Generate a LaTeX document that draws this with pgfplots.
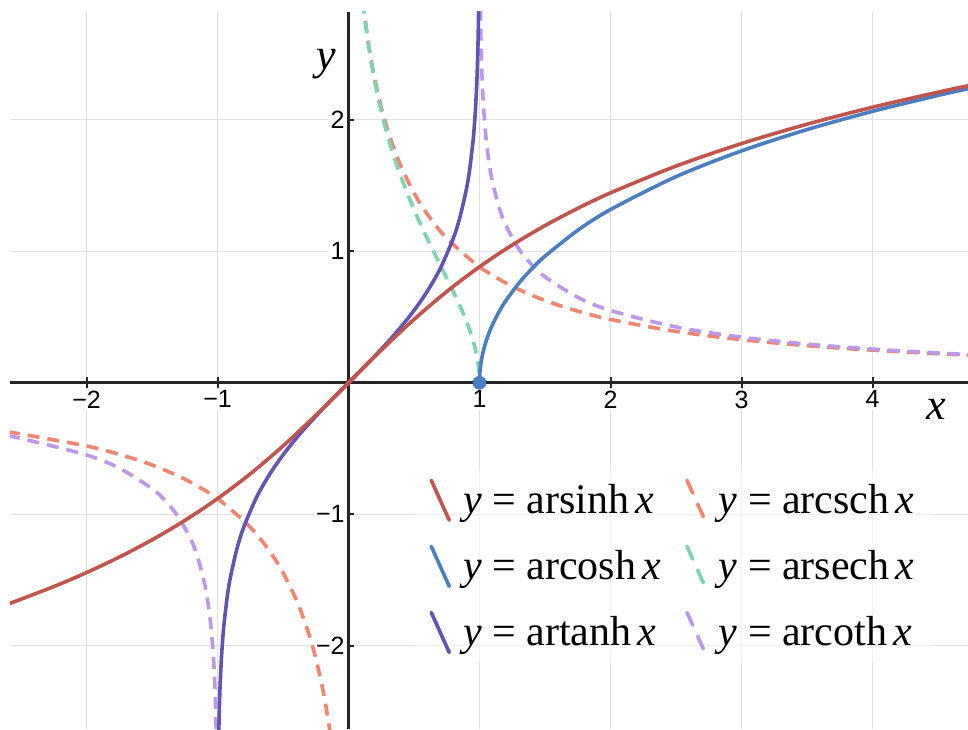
\documentclass[border=0pt]{standalone}
\usepackage{fontspec}
\setmainfont{Liberation Serif}
\newfontfamily\ticksans{Liberation Sans}
\usepackage{pgfplots}
\pgfplotsset{compat=1.18}
\usetikzlibrary{calc}

\definecolor{sinhcol}{RGB}{194,84,78}
\definecolor{coshcol}{RGB}{74,126,192}
\definecolor{tanhcol}{RGB}{98,84,178}
\definecolor{cschcol}{RGB}{242,132,112}
\definecolor{sechcol}{RGB}{126,212,176}
\definecolor{cothcol}{RGB}{186,152,234}

\pgfplotsset{
  solidcurve/.style={line width=1.8pt, smooth, line cap=round},
  dashcurve/.style={line width=1.8pt, smooth, dash pattern=on 6pt off 4pt},
}

\begin{document}
\begin{tikzpicture}
\begin{axis}[
  scale only axis, width=479pt, height=358.5pt,
  xmin=-2.584, xmax=4.729, ymin=-2.633, ymax=2.819,
  axis lines=middle,
  axis line style={-, line width=1.3pt, color=black!85},
  xtick={-2,-1,1,2,3,4}, xticklabels={−2,−1,1,2,3,4},
  ytick={-2,-1,1,2}, yticklabels={−2,−1,1,2},
  tick align=center, major tick length=5.5pt,
  tick style={line width=1pt, color=black!85},
  grid=major, major grid style={line width=0.7pt, color=black!12},
  ticklabel style={font=\ticksans\fontsize{12.5}{14}\selectfont, fill=white, inner sep=1pt},
  yticklabel style={xshift=2pt},
  xlabel={\textit{x}}, ylabel={\textit{y}},
  every axis x label/.style={at={(axis cs:4.49,-0.2)}, anchor=center, font=\fontsize{22}{24}\selectfont},
  every axis y label/.style={at={(axis cs:-0.17,2.42)}, anchor=center, font=\fontsize{22}{24}\selectfont},
  legend image code/.code={\draw[#1, line cap=round] (0pt,10pt) -- (9pt,-10pt);
    \path[draw=none, fill=none] (0pt,0pt) -- (14pt,0pt);},
  legend columns=2,
  legend cell align=left,
  legend style={at={(axis cs:0.508,-0.664)}, anchor=north west, draw=none,
    fill=white, fill opacity=0.6, text opacity=1,
    font=\fontsize{21}{24}\selectfont, inner xsep=7pt, inner ysep=4pt, row sep=11.25pt,
    /tikz/every even column/.append style={column sep=10pt}},
]

% legend entries, row by row
\addlegendimage{sinhcol, line width=1.8pt}
\addlegendentry{\textit{y}\hspace{0.25em}=\hspace{0.25em}arsinh\hspace{0.15em}\textit{x}}
\addlegendimage{cschcol, line width=1.8pt, dash pattern=on 7pt off 6pt}
\addlegendentry{\textit{y}\hspace{0.25em}=\hspace{0.25em}arcsch\hspace{0.15em}\textit{x}}
\addlegendimage{coshcol, line width=1.8pt}
\addlegendentry{\textit{y}\hspace{0.25em}=\hspace{0.25em}arcosh\hspace{0.15em}\textit{x}}
\addlegendimage{sechcol, line width=1.8pt, dash pattern=on 7pt off 6pt}
\addlegendentry{\textit{y}\hspace{0.25em}=\hspace{0.25em}arsech\hspace{0.15em}\textit{x}}
\addlegendimage{tanhcol, line width=1.8pt}
\addlegendentry{\textit{y}\hspace{0.25em}=\hspace{0.25em}artanh\hspace{0.15em}\textit{x}}
\addlegendimage{cothcol, line width=1.8pt, dash pattern=on 7pt off 6pt}
\addlegendentry{\textit{y}\hspace{0.25em}=\hspace{0.25em}arcoth\hspace{0.15em}\textit{x}}

% arcsch, two branches
\addplot[cschcol, dashcurve, forget plot] coordinates {
 (-2.6,-0.3757) (-2.5,-0.3900) (-2,-0.4812) (-1.75,-0.5443) (-1.5,-0.6252)
 (-1.25,-0.7327) (-1,-0.8814) (-0.75,-1.0986) (-0.6,-1.2838) (-0.5,-1.4436)
 (-0.4,-1.6472) (-0.35,-1.7722) (-0.3,-1.9189) (-0.25,-2.0947) (-0.2,-2.3124)
 (-0.175,-2.4437) (-0.15,-2.5958) (-0.13,-2.7376)
};
\addplot[cschcol, dashcurve, forget plot] coordinates {
 (0.11,2.9034) (0.12,2.8170) (0.135,2.7002) (0.15,2.5958) (0.175,2.4437)
 (0.2,2.3124) (0.25,2.0947) (0.3,1.9189) (0.35,1.7722) (0.4,1.6472)
 (0.5,1.4436) (0.6,1.2838) (0.75,1.0986) (1,0.8814) (1.25,0.7327)
 (1.5,0.6252) (1.75,0.5443) (2,0.4812) (2.5,0.3900) (3,0.3275)
 (3.5,0.2819) (4,0.2475) (4.5,0.2205) (4.75,0.2090)
};

% arsech
\addplot[sechcol, dashcurve, forget plot] coordinates {
 (0.11,2.8973) (0.12,2.8098) (0.135,2.6911) (0.15,2.5846) (0.175,2.4284)
 (0.2,2.2925) (0.25,2.0634) (0.3,1.8738) (0.35,1.7108) (0.4,1.5668)
 (0.5,1.3170) (0.6,1.0986) (0.7,0.8955) (0.8,0.6931) (0.85,0.5857)
 (0.9,0.4671) (0.95,0.3230) (0.98,0.2017) (0.99,0.1420) (0.995,0.1002)
 (0.999,0.0447) (1,0)
};

% arcoth, two branches
\addplot[cothcol, dashcurve, forget plot] coordinates {
 (-2.6,-0.4055) (-2.5,-0.4236) (-2,-0.5493) (-1.75,-0.6496) (-1.5,-0.8047)
 (-1.4,-0.8959) (-1.3,-1.0184) (-1.2,-1.1989) (-1.15,-1.3313) (-1.1,-1.5223)
 (-1.075,-1.6601) (-1.05,-1.8568) (-1.03,-2.1073) (-1.02,-2.3076)
 (-1.015,-2.4502) (-1.01,-2.6516) (-1.008,-2.7628) (-1.005,-2.9970)
};
\addplot[cothcol, dashcurve, forget plot] coordinates {
 (1.005,2.9970) (1.008,2.7628) (1.01,2.6516) (1.015,2.4502) (1.02,2.3076)
 (1.03,2.1073) (1.05,1.8568) (1.075,1.6601) (1.1,1.5223) (1.15,1.3313)
 (1.2,1.1989) (1.3,1.0184) (1.4,0.8959) (1.5,0.8047) (1.75,0.6496)
 (2,0.5493) (2.5,0.4236) (3,0.3466) (3.5,0.2939) (4,0.2554)
 (4.5,0.2260) (4.75,0.2137)
};

% artanh
\addplot[tanhcol, solidcurve, forget plot] coordinates {
 (-0.995,-2.9945) (-0.993,-2.8257) (-0.99,-2.6467) (-0.985,-2.4427)
 (-0.98,-2.2976) (-0.97,-2.0923) (-0.96,-1.9459) (-0.95,-1.8318)
 (-0.925,-1.6226) (-0.9,-1.4722) (-0.85,-1.2562) (-0.8,-1.0986)
 (-0.7,-0.8673) (-0.6,-0.6931) (-0.5,-0.5493) (-0.4,-0.4236)
 (-0.3,-0.3095) (-0.2,-0.2027) (-0.1,-0.1003) (0,0)
 (0.1,0.1003) (0.2,0.2027) (0.3,0.3095) (0.4,0.4236) (0.5,0.5493)
 (0.6,0.6931) (0.7,0.8673) (0.8,1.0986) (0.85,1.2562) (0.9,1.4722)
 (0.925,1.6226) (0.95,1.8318) (0.96,1.9459) (0.97,2.0923) (0.98,2.2976)
 (0.985,2.4427) (0.99,2.6467) (0.993,2.8257) (0.995,2.9945)
};

% arcosh
\addplot[coshcol, solidcurve, forget plot] coordinates {
 (1,0) (1.001,0.0447) (1.003,0.0774) (1.01,0.1413) (1.02,0.1997)
 (1.035,0.2638) (1.05,0.3149) (1.075,0.3850) (1.1,0.4436) (1.15,0.5411)
 (1.2,0.6224) (1.3,0.7564) (1.4,0.8670) (1.5,0.9624) (1.75,1.1588)
 (2,1.3170) (2.5,1.5668) (3,1.7627) (3.5,1.9248) (4,2.0634)
 (4.5,2.1846) (4.75,2.2400)
};

% arsinh
\addplot[sinhcol, solidcurve, forget plot] coordinates {
 (-2.6,-1.6837) (-2.25,-1.5501) (-2,-1.4436) (-1.75,-1.3259) (-1.5,-1.1948)
 (-1.25,-1.0476) (-1,-0.8814) (-0.75,-0.6931) (-0.5,-0.4812) (-0.25,-0.2475)
 (0,0) (0.25,0.2475) (0.5,0.4812) (0.75,0.6931) (1,0.8814)
 (1.25,1.0476) (1.5,1.1948) (1.75,1.3259) (2,1.4436) (2.5,1.6472)
 (3,1.8184) (3.5,1.9657) (4,2.0947) (4.5,2.2093) (4.75,2.2622)
};

% endpoint of arcosh
\addplot[only marks, mark=*, mark size=3.2pt, color=coshcol, forget plot] coordinates {(1,0)};

\end{axis}
\pgfresetboundingbox
\path ($(current axis.south west)+(-5pt,0pt)$) rectangle ($(current axis.north east)+(0pt,6pt)$);
\end{tikzpicture}
\end{document}
